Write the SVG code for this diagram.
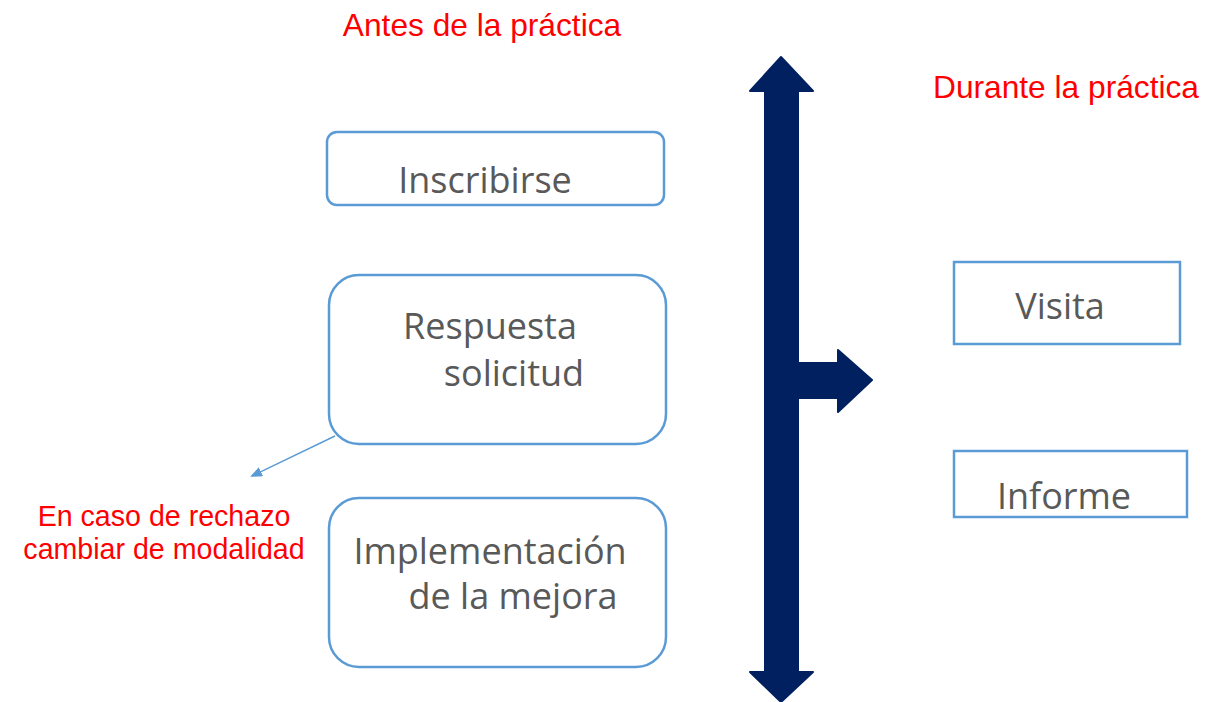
<svg xmlns="http://www.w3.org/2000/svg" width="1215" height="702" viewBox="0 0 1215 702">
<style>
.box{fill:#fff;stroke:#5b9bd5;stroke-width:2.5}
.t{font-family:"Open Sans","Noto Sans",sans-serif;font-size:36px;fill:#595959}
.r{font-family:"Liberation Sans",Arial,sans-serif;font-size:31.7px;fill:#ff0000}
.rs{font-family:"Liberation Sans",Arial,sans-serif;font-size:28.6px;fill:#ff0000}
</style>
<defs>
<marker id="ah" markerWidth="12" markerHeight="10" refX="10" refY="5" orient="auto" markerUnits="userSpaceOnUse">
<path d="M0,0 L12,5 L0,10 Z" fill="#5b9bd5"/>
</marker>
</defs>
<rect width="1215" height="702" fill="#fff"/>
<text class="r" x="482" y="36" text-anchor="middle">Antes de la práctica</text>
<text class="r" x="1066" y="98" text-anchor="middle">Durante la práctica</text>
<g id="timeline">
<path d="M781,57 L813,91 L798,91 L798,363 L838,363 L838,350 L872,380 L838,412 L838,398 L798,398 L798,672 L813,672 L781,702 L750,672 L765,672 L765,91 L750,91 Z" fill="#002060" stroke="#002060" stroke-width="2" stroke-linejoin="round"/>
</g>
<g id="inscribirse">
<rect class="box" x="327" y="132" width="337" height="73" rx="10"/>
<text class="t" x="485" y="193" text-anchor="middle">Inscribirse</text>
</g>
<g id="respuesta">
<rect class="box" x="329" y="275" width="337" height="169" rx="30"/>
<text class="t" x="490" y="339" text-anchor="middle">Respuesta</text>
<text class="t" x="514" y="386" text-anchor="middle">solicitud</text>
</g>
<g id="implementacion">
<rect class="box" x="329" y="498" width="337" height="169" rx="30"/>
<text class="t" x="490" y="564" text-anchor="middle">Implementación</text>
<text class="t" x="513" y="609" text-anchor="middle">de la mejora</text>
</g>
<g id="visita">
<rect class="box" x="954" y="262" width="226" height="82"/>
<text class="t" x="1060" y="319" text-anchor="middle">Visita</text>
</g>
<g id="informe">
<rect class="box" x="954" y="451" width="233" height="66"/>
<text class="t" x="1064" y="509" text-anchor="middle">Informe</text>
</g>
<g id="nota">
<text class="rs" x="164" y="526" text-anchor="middle">En caso de rechazo</text>
<text class="rs" x="164" y="559" text-anchor="middle">cambiar de modalidad</text>
</g>
<g id="connectors">
<line x1="335" y1="436" x2="252" y2="476" stroke="#5b9bd5" stroke-width="1.5" marker-end="url(#ah)"/>
</g>
</svg>
